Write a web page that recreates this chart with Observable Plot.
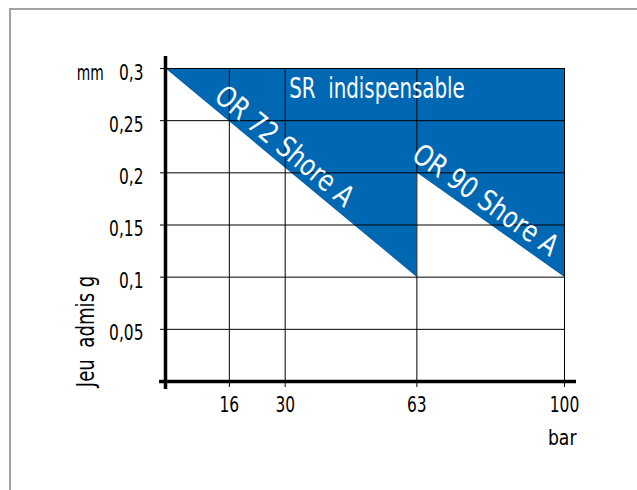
<!DOCTYPE html>
<html><head><meta charset="utf-8">
<script src="https://cdn.jsdelivr.net/npm/d3@7"></script>
<script src="https://cdn.jsdelivr.net/npm/@observablehq/plot@0.6"></script>
<style>
body{margin:0;background:#fff;}
#wrap{position:relative;width:637px;height:490px;overflow:hidden;background:#fff;}
#frame{position:absolute;left:9px;top:8px;right:-4px;bottom:-4px;border-left:2px solid #a3a3a3;border-top:2px solid #a3a3a3;pointer-events:none;}
</style></head><body>
<div id="wrap"><div id="frame"></div></div>
<script>
const FONT = '"Liberation Sans Narrow","DejaVu Sans Condensed","Arial Narrow",sans-serif';
const BLUE = "#0068b3";

// data
const xTicks = [16, 30, 63, 100];
const yTicks = [0.05, 0.1, 0.15, 0.2, 0.25, 0.3];
const or72X = [0, 63];
const or72Y = [0.3, 0.1];
const or90X = [63, 100];
const or90Y = [0.2, 0.1];
const topY = 0.3;
const annotations = ["SR\u00A0\u00A0indispensable", "OR 72 Shore A", "OR 90 Shore A"];
const axisTitles = ["mm", "Jeu\u00A0\u00A0admis g", "bar"];

const boundary = [
  ...or72X.map((x, i) => ({x, lo: or72Y[i], hi: topY})),
  ...or90X.map((x, i) => ({x, lo: or90Y[i], hi: topY}))
];
const fmt = d => String(d).replace(".", ",");

const chart = Plot.plot({
  width: 637, height: 490,
  marginLeft: 165, marginRight: 73, marginTop: 68, marginBottom: 109,
  x: {domain: [0, 100]},
  y: {domain: [0, 0.3]},
  style: {background: "transparent", fontFamily: FONT, fontSize: "22px", color: "black", overflow: "visible"},
  marks: [
    Plot.areaY(boundary, {x: "x", y1: "lo", y2: "hi", fill: BLUE, curve: "linear"}),
    Plot.gridY(yTicks, {stroke: "#000", strokeOpacity: 1, strokeWidth: 1}),
    Plot.gridX(xTicks, {stroke: "#000", strokeOpacity: 1, strokeWidth: 1}),
    Plot.axisY(yTicks, {tickSize: 5, fill: "none", label: null, stroke: "#000"}),
    Plot.axisY(yTicks, {tickSize: 0, tickPadding: 22, tickFormat: fmt, label: null, dy: 4, fontSize: 22, fontFamily: FONT}),
    Plot.axisX(xTicks, {tickSize: 6, fill: "none", label: null, stroke: "#000"}),
    Plot.axisX(xTicks, {tickSize: 0, tickPadding: 15, label: null, fontSize: 22, fontFamily: FONT}),
    Plot.ruleX([0], {strokeWidth: 3.5, insetTop: -12, insetBottom: -8}),
    Plot.ruleY([0], {strokeWidth: 3.5, insetLeft: -6, insetRight: -12}),
    Plot.text([annotations[0]], {x: 31, y: 0.281, text: d => d, textAnchor: "start", fill: "white", fontSize: 29, fontFamily: FONT}),
    Plot.text([annotations[1]], {x: 29.8, y: 0.2254, text: d => d, rotate: 39.7, fill: "white", fontSize: 29, fontFamily: FONT}),
    Plot.text([annotations[2]], {x: 80.2, y: 0.1737, text: d => d, rotate: 35.2, fill: "white", fontSize: 29, fontFamily: FONT}),
    Plot.text([axisTitles[0]], {x: -15.5, y: 0.3, dy: 4, text: d => d, textAnchor: "end", fontSize: 22, fontFamily: FONT}),
    Plot.text([axisTitles[1]], {x: -19.8, y: 0.048, text: d => d, rotate: -90, fontSize: 24, fontFamily: FONT}),
    Plot.text([axisTitles[2]], {x: 103, y: -0.054, text: d => d, textAnchor: "end", fontSize: 22, fontFamily: FONT})
  ]
});
document.getElementById("wrap").prepend(chart);

// condense the glyphs horizontally (narrow typeface look)
const squeeze = {
  [annotations[0]]: 0.76,
  [annotations[1]]: 0.9,
  [annotations[2]]: 0.9,
  [axisTitles[0]]: 0.7,
  [axisTitles[1]]: 0.84,
  [axisTitles[2]]: 0.87
};
d3.select(chart).selectAll("text").each(function() {
  const t = this.textContent;
  if (!t) return;
  const r = squeeze[t] ?? 0.78;
  const len = this.getComputedTextLength();
  this.setAttribute("textLength", (len * r).toFixed(1));
  this.setAttribute("lengthAdjust", "spacingAndGlyphs");
});
</script>
</body></html>
